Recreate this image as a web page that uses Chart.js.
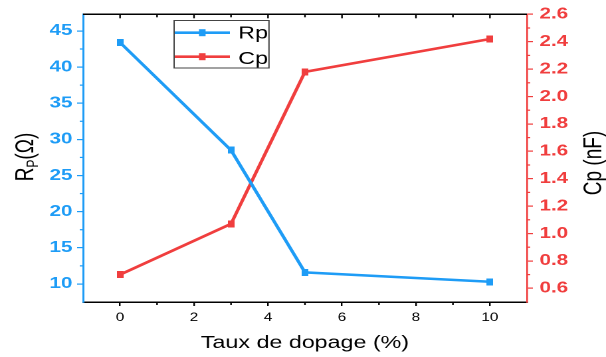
<!DOCTYPE html>
<html>
<head>
<meta charset="utf-8">
<script src="https://cdn.jsdelivr.net/npm/chart.js@4/dist/chart.umd.min.js"></script>
<style>
  html, body { margin: 0; padding: 0; background: #fff; overflow: hidden; }
  /* the figure is laid out narrow and widened horizontally */
  #wrap { width: 456px; height: 357px; transform: scaleX(1.3289); transform-origin: 0 0; }
  #c { display: block; width: 456px; height: 357px; }
</style>
</head>
<body>
<div id="wrap"><canvas id="c" width="456" height="357"></canvas></div>
<script>
// Doping level (%) and measured parameters
const dopage   = [0, 3, 5, 10];
const rpValues = [43.4, 28.5, 11.6, 10.3];   // Rp (Ω)
const cpValues = [0.70, 1.07, 2.18, 2.42];   // Cp (nF)
const seriesNames = ['Rp', 'Cp'];

// Tick labels
const xTicks  = [0, 2, 4, 6, 8, 10];
const rpTicks = [10, 15, 20, 25, 30, 35, 40, 45];
const cpTicks = [0.6, 0.8, 1.0, 1.2, 1.4, 1.6, 1.8, 2.0, 2.2, 2.4, 2.6];

const BLUE = '#1E9CF6';
const RED  = '#F03E3E';
const FONT = '"Liberation Sans", Arial, Helvetica, sans-serif';

function marker(color) {
  const c = document.createElement('canvas');
  c.width = 5; c.height = 7;
  const g = c.getContext('2d');
  g.fillStyle = color;
  g.fillRect(0, 0, 5, 7);
  return c;
}

function midpoints(arr) {
  const out = [];
  for (let i = 1; i < arr.length; i++) out.push((arr[i - 1] + arr[i]) / 2);
  return out;
}

// Frame, mirrored/minor ticks, axis titles and legend
const decorations = {
  id: 'decorations',
  afterDraw(chart) {
    const { ctx, chartArea: a, scales } = chart;
    const x = scales.x, yR = scales.yR, yC = scales.yC;
    ctx.save();

    // top frame with inward ticks
    ctx.strokeStyle = '#000';
    ctx.lineWidth = 1.5;
    ctx.beginPath(); ctx.moveTo(a.left, a.top); ctx.lineTo(a.right, a.top); ctx.stroke();
    ctx.lineWidth = 1.2;
    xTicks.forEach(v => {
      const px = x.getPixelForValue(v);
      ctx.beginPath(); ctx.moveTo(px, a.top); ctx.lineTo(px, a.top + 4); ctx.stroke();
    });
    midpoints(xTicks).forEach(v => {
      const px = x.getPixelForValue(v);
      ctx.beginPath(); ctx.moveTo(px, a.top); ctx.lineTo(px, a.top + 3); ctx.stroke();
      ctx.beginPath(); ctx.moveTo(px, a.bottom); ctx.lineTo(px, a.bottom + 3); ctx.stroke();
    });

    // minor ticks on the value axes
    ctx.strokeStyle = BLUE;
    midpoints(rpTicks).forEach(v => {
      const py = yR.getPixelForValue(v);
      ctx.beginPath(); ctx.moveTo(a.left, py); ctx.lineTo(a.left - 2.5, py); ctx.stroke();
    });
    ctx.strokeStyle = RED;
    midpoints(cpTicks).forEach(v => {
      const py = yC.getPixelForValue(v);
      ctx.beginPath(); ctx.moveTo(a.right, py); ctx.lineTo(a.right + 2.5, py); ctx.stroke();
    });

    // x axis title
    ctx.fillStyle = '#000';
    ctx.font = '17.5px ' + FONT;
    ctx.textAlign = 'center';
    ctx.textBaseline = 'alphabetic';
    ctx.fillText('Taux de dopage (%)', (a.left + a.right) / 2, 348);

    // left title: R_P(Ω)
    ctx.save();
    ctx.translate(18, 157);
    ctx.rotate(-Math.PI / 2);
    ctx.textAlign = 'left';
    const big = '19px ' + FONT, small = '12px ' + FONT;
    ctx.font = big; const wR = ctx.measureText('R').width; const wO = ctx.measureText('(Ω)').width;
    ctx.font = small; const wP = ctx.measureText('P').width;
    let sx = -(wR + wP + wO) / 2;
    ctx.font = big; ctx.fillText('R', sx, 6.8); sx += wR;
    ctx.font = small; ctx.fillText('P', sx, 10.5); sx += wP;
    ctx.font = big; ctx.fillText('(Ω)', sx, 6.8);
    ctx.restore();

    // right title
    ctx.save();
    ctx.translate(445.8, 163);
    ctx.rotate(-Math.PI / 2);
    ctx.textAlign = 'center';
    ctx.font = '19px ' + FONT;
    ctx.fillText('Cp (nF)', 0, 6.8);
    ctx.restore();

    // legend
    ctx.strokeStyle = '#444';
    ctx.lineWidth = 1;
    ctx.strokeRect(131, 20.5, 71.4, 47.5);
    const rows = [
      { name: seriesNames[0], color: BLUE, ly: 32.7, by: 38.3 },
      { name: seriesNames[1], color: RED,  ly: 56.7, by: 63.8 }
    ];
    rows.forEach(r => {
      ctx.strokeStyle = r.color;
      ctx.lineWidth = 2.6;
      ctx.beginPath(); ctx.moveTo(131.5, r.ly); ctx.lineTo(173, r.ly); ctx.stroke();
      ctx.fillStyle = r.color;
      ctx.fillRect(152.2 - 2.5, r.ly - 3.5, 5, 7);
      ctx.fillStyle = '#000';
      ctx.font = '17.5px ' + FONT;
      ctx.textAlign = 'left';
      ctx.fillText(r.name, 179.3, r.by);
    });

    ctx.restore();
  }
};

const rpPoints = dopage.map((d, i) => ({ x: d, y: rpValues[i] }));
const cpPoints = dopage.map((d, i) => ({ x: d, y: cpValues[i] }));

new Chart(document.getElementById('c'), {
  type: 'line',
  data: {
    datasets: [
      {
        label: seriesNames[0], data: rpPoints, yAxisID: 'yR',
        borderColor: BLUE, backgroundColor: BLUE, borderWidth: 2.6,
        pointStyle: marker(BLUE), pointRadius: 4, tension: 0
      },
      {
        label: seriesNames[1], data: cpPoints, yAxisID: 'yC',
        borderColor: RED, backgroundColor: RED, borderWidth: 2.6,
        pointStyle: marker(RED), pointRadius: 4, tension: 0
      }
    ]
  },
  options: {
    responsive: false,
    devicePixelRatio: 2,
    animation: false,
    events: [],
    layout: { padding: { top: 13, left: 0, right: 0, bottom: 0 } },
    plugins: { legend: { display: false }, tooltip: { enabled: false } },
    scales: {
      x: {
        type: 'linear', position: 'bottom', min: -1, max: 11,
        afterBuildTicks(s) { s.ticks = xTicks.map(v => ({ value: v })); },
        afterFit(s) { s.height = 55; },
        ticks: { color: '#000', font: { family: FONT, size: 11.5 }, padding: 5,
                 autoSkip: false, maxRotation: 0, callback: v => String(v) },
        grid: { display: true, drawOnChartArea: false, drawTicks: true, tickLength: 4,
                color: '#000', lineWidth: 1.2 },
        border: { display: true, color: '#000', width: 1.5 }
      },
      yR: {
        type: 'linear', position: 'left', min: 7.5, max: 47.3,
        afterBuildTicks(s) { s.ticks = rpTicks.map(v => ({ value: v })); },
        afterFit(s) { s.width = 62.5; },
        ticks: { color: BLUE, font: { family: FONT, size: 15.5, weight: 'bold' }, padding: 3.5,
                 autoSkip: false, callback: v => String(v) },
        grid: { display: true, drawOnChartArea: false, drawTicks: true, tickLength: 4.5,
                color: BLUE, lineWidth: 1.2 },
        border: { display: true, color: BLUE, width: 1.5 }
      },
      yC: {
        type: 'linear', position: 'right', min: 0.5, max: 2.6,
        afterBuildTicks(s) { s.ticks = cpTicks.map(v => ({ value: v })); },
        afterFit(s) { s.width = 59.5; },
        ticks: { color: RED, font: { family: FONT, size: 15.5, weight: 'bold' }, padding: 5,
                 autoSkip: false, callback: v => v.toFixed(1) },
        grid: { display: true, drawOnChartArea: false, drawTicks: true, tickLength: 4.5,
                color: RED, lineWidth: 1.2 },
        border: { display: true, color: RED, width: 1.3 }
      }
    }
  },
  plugins: [decorations]
});
</script>
</body>
</html>
